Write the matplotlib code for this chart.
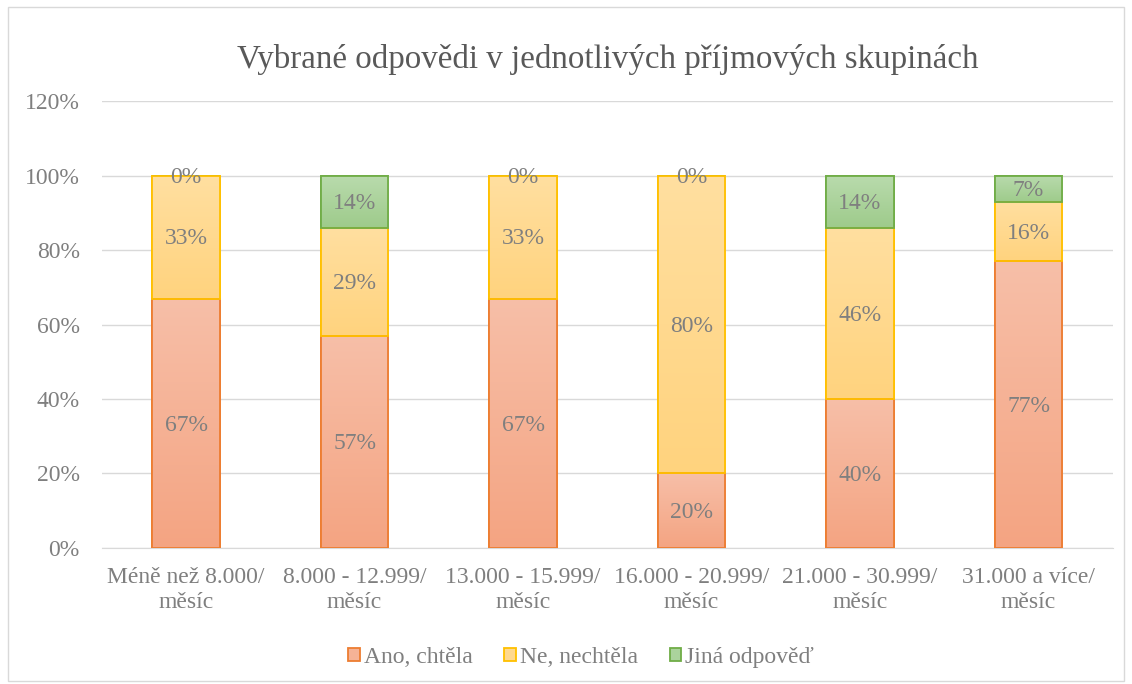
import numpy as np
import matplotlib.pyplot as plt
from matplotlib.colors import LinearSegmentedColormap
from matplotlib.patches import Rectangle

plt.rcParams['font.family'] = ['Liberation Serif', 'DejaVu Serif']

categories = ['Méně než 8.000/\nměsíc', '8.000 - 12.999/\nměsíc', '13.000 - 15.999/\nměsíc',
              '16.000 - 20.999/\nměsíc', '21.000 - 30.999/\nměsíc', '31.000 a více/\nměsíc']
ano = [0.67, 0.57, 0.67, 0.20, 0.40, 0.77]
ne = [0.33, 0.29, 0.33, 0.80, 0.46, 0.16]
jina = [0.00, 0.14, 0.00, 0.00, 0.14, 0.07]
series_names = ['Ano, chtěla', 'Ne, nechtěla', 'Jiná odpověď']

# (top colour, bottom colour, legend colour, edge colour)
styles = [('#F7BFA8', '#F4A482', '#F5B296', '#ED7D31'),
          ('#FFDFA0', '#FFD37E', '#FFD98F', '#FFC000'),
          ('#B9DBAD', '#9ECB8B', '#ABD39C', '#70AD47')]
grey = '#7F7F7F'

fig = plt.figure(figsize=(11.32, 6.84), dpi=100)
ax = fig.add_axes([0.090, 0.199, 0.893, 0.653])
fig.patches.append(Rectangle((0.007, 0.005), 0.986, 0.985, transform=fig.transFigure,
                             fill=False, edgecolor='#D9D9D9', linewidth=1))

x = np.arange(len(categories))
width = 0.4
grad = np.linspace(0, 1, 256).reshape(-1, 1)
bottom = np.zeros(len(categories))
handles = []
for vals, name, (ctop, cbot, cleg, cedge) in zip([ano, ne, jina], series_names, styles):
    vals = np.array(vals)
    bars = ax.bar(x, vals, width, bottom=bottom, color=cleg, edgecolor=cedge,
                  linewidth=1.3, label=name, zorder=3)
    cmap = LinearSegmentedColormap.from_list('g', [cbot, ctop])
    for b in bars:
        if b.get_height() <= 0:
            continue
        x0, y0 = b.get_x(), b.get_y()
        im = ax.imshow(grad, cmap=cmap, aspect='auto', origin='lower',
                       extent=[x0, x0 + b.get_width(), y0, y0 + b.get_height()], zorder=3.5)
        im.set_clip_path(b)
        ax.add_patch(Rectangle((x0, y0), b.get_width(), b.get_height(), fill=False,
                               edgecolor=cedge, linewidth=1.3, zorder=4))
    for xi, v, bt in zip(x, vals, bottom):
        ax.text(xi, bt + v / 2 - 0.005, f'{v * 100:.0f}%', ha='center', va='center',
                fontsize=17, color=grey, zorder=5)
    handles.append(bars)
    bottom = bottom + vals

ax.set_xlim(-0.5, len(categories) - 0.5)
ax.set_ylim(0, 1.2)
ax.set_yticks(np.arange(0, 1.21, 0.2))
ax.set_yticklabels([f'{t}%' for t in range(0, 121, 20)])
ax.set_xticks(x)
ax.set_xticklabels(categories, linespacing=1.2)
ax.tick_params(length=0, labelsize=17, colors=grey)
ax.tick_params(axis='x', pad=14)
ax.tick_params(axis='y', pad=16)
ax.grid(axis='y', color='#D9D9D9', linewidth=1, zorder=0)
for s in ['top', 'right', 'left']:
    ax.spines[s].set_visible(False)
ax.spines['bottom'].set_color('#D9D9D9')

ax.set_title('Vybrané odpovědi v jednotlivých příjmových skupinách', fontsize=23.8,
             color='#595959', pad=24)
ax.legend(handles=handles, loc='center', bbox_to_anchor=(0.474, -0.245), ncol=3,
          frameon=False, fontsize=17, labelcolor=grey, handlelength=0.5, handleheight=0.5,
          handletextpad=0.15, columnspacing=1.35)

fig.savefig('out.png', dpi=100)
